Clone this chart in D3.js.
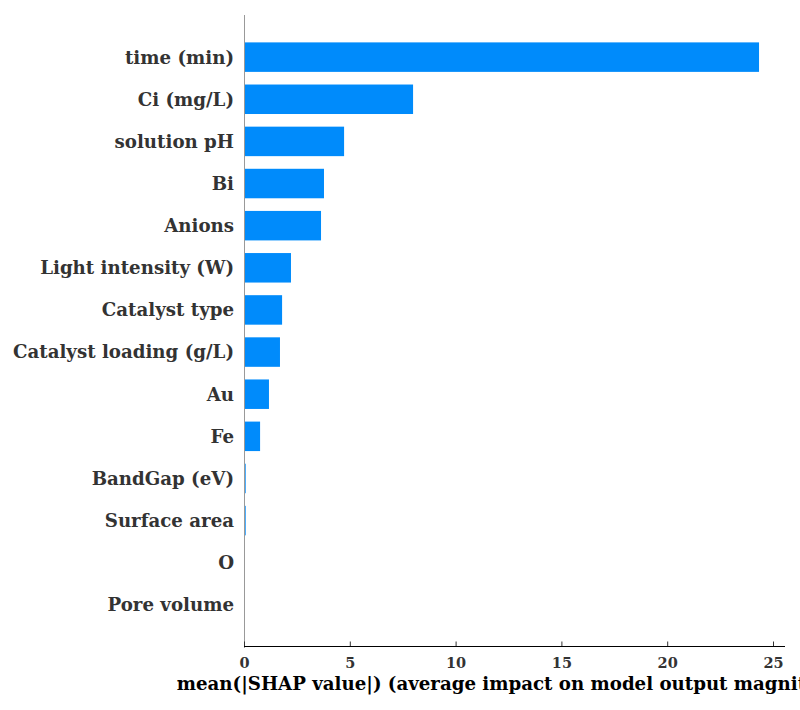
<!DOCTYPE html>
<html>
<head>
<meta charset="utf-8">
<script src="https://cdn.jsdelivr.net/npm/d3@7"></script>
<style>
  body { margin: 0; background: #fff; }
  text { font-family: "DejaVu Serif", serif; font-weight: bold; }
</style>
</head>
<body>
<div id="chart"></div>
<script>
const features = ["time (min)", "Ci (mg/L)", "solution pH", "Bi", "Anions", "Light intensity (W)",
    "Catalyst type", "Catalyst loading (g/L)", "Au", "Fe", "BandGap (eV)", "Surface area", "O", "Pore volume"];
const meanShap = [24.34, 7.99, 4.73, 3.78, 3.64, 2.22, 1.80, 1.70, 1.18, 0.76, 0.08, 0.08, 0.01, 0.0];
const xTicks = [0, 5, 10, 15, 20, 25];
const xLabel = "mean(|SHAP value|) (average impact on model output magnitude)";

const width = 800, height = 710;
const margin = {left: 244, right: 785, top: 15, bottom: 646};

const svg = d3.select("#chart").append("svg")
    .attr("width", width)
    .attr("height", height);

// 0 -> 244, 25 -> 773
const x = d3.scaleLinear().domain([0, 25]).range([margin.left, 773]);
const y = d3.scaleLinear().domain([-1, 14]).range([margin.top, margin.bottom + 1]);
const barH = 0.7 * (y(1) - y(0));

// barres
svg.selectAll(".bar")
    .data(features)
    .enter().append("rect")
    .attr("class", "bar")
    .attr("x", x(0))
    .attr("y", (d, i) => y(i) - barH / 2)
    .attr("width", (d, i) => x(meanShap[i]) - x(0))
    .attr("height", barH)
    .attr("fill", "#008bfb");

// étiquettes des variables
svg.selectAll(".ylab")
    .data(features)
    .enter().append("text")
    .attr("class", "ylab")
    .attr("x", margin.left - 10)
    .attr("y", (d, i) => y(i))
    .attr("dy", "0.35em")
    .attr("text-anchor", "end")
    .attr("fill", "#333")
    .style("font-size", "18.2px")
    .text(d => d);

// axe y (ligne grise)
svg.append("line")
    .attr("x1", margin.left + 0.5).attr("x2", margin.left + 0.5)
    .attr("y1", margin.top).attr("y2", margin.bottom + 2)
    .attr("stroke", "#999").attr("stroke-width", 1);

// axe x
const xAxis = d3.axisTop(x).tickValues(xTicks).tickSize(5).tickFormat(d3.format("d"));
const gx = svg.append("g")
    .attr("transform", `translate(0,${margin.bottom + 0.5})`)
    .call(xAxis);
gx.select(".domain").remove();
gx.append("line")
    .attr("x1", margin.left).attr("x2", margin.right)
    .attr("stroke", "#000").attr("stroke-width", 1.2);
gx.selectAll(".tick line").attr("stroke", "#333");
gx.selectAll(".tick text")
    .attr("y", 21)
    .attr("dy", "0")
    .attr("fill", "#333")
    .style("font-size", "14.5px")
    .style("font-family", "DejaVu Serif, serif")
    .style("font-weight", "bold");

svg.append("text")
    .attr("x", (margin.left + margin.right) / 2)
    .attr("y", 690)
    .attr("text-anchor", "middle")
    .attr("fill", "#000")
    .style("font-size", "18.2px")
    .text(xLabel);
</script>
</body>
</html>
